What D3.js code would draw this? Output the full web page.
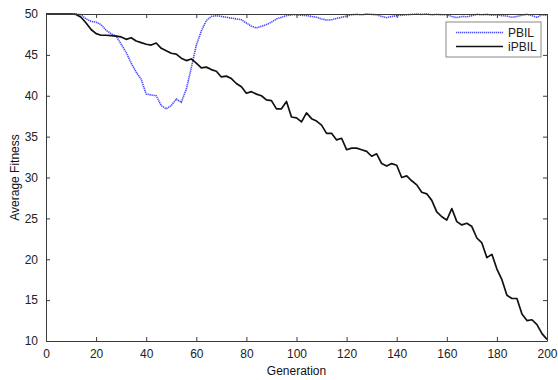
<!DOCTYPE html>
<html>
<head>
<meta charset="utf-8">
<script src="https://cdn.jsdelivr.net/npm/d3@7"></script>
<style>
  html, body { margin: 0; padding: 0; background: #fff; }
  svg { display: block; font-family: "Liberation Sans", Arial, sans-serif; }
</style>
</head>
<body>
<svg id="chart" width="558" height="380"></svg>
<script>
// Generations sampled every 2 steps
const generations = d3.range(0, 201, 2);

// Average fitness per sampled generation
const pbil = [
  50, 50, 50, 50, 50, 50, 50, 49.9, 49.4, 49.1,
  49.0, 48.7, 48.0, 47.6, 47.3, 46.3, 45.3, 44.0, 42.9, 42.0,
  40.2, 40.1, 40.0, 38.8, 38.4, 38.8, 39.6, 39.2, 40.8, 43.4,
  46.2, 47.9, 49.2, 49.7, 49.8, 49.7, 49.6, 49.5, 49.4, 49.3,
  48.9, 48.5, 48.3, 48.5, 48.7, 49.0, 49.4, 49.6, 49.8, 49.9,
  49.9, 49.85, 49.8, 49.7, 49.6, 49.4, 49.25, 49.3, 49.45, 49.6,
  49.75, 49.9, 49.95, 49.9, 50, 49.95, 49.9, 49.7, 49.55, 49.7,
  49.8, 49.85, 49.9, 49.95, 50, 49.95, 50, 49.9, 49.95, 49.9,
  49.9, 49.7, 49.55, 49.7, 49.65, 49.8, 49.95, 49.9, 49.95, 49.85,
  49.9, 49.8, 49.75, 49.6, 49.7, 49.85, 49.95, 49.8, 49.6, 49.9,
  49.8
];

const ipbil = [
  50, 50, 50, 50, 50, 50, 49.95, 49.6, 48.9, 48.1,
  47.6, 47.4, 47.4, 47.35, 47.3, 47.2, 46.9, 47.1, 46.7, 46.5,
  46.3, 46.2, 46.45, 45.8, 45.5, 45.2, 45.1, 44.6, 44.3, 44.5,
  44.0, 43.4, 43.5, 43.2, 43.0, 42.3, 42.4, 42.1, 41.5, 41.1,
  40.3, 40.5, 40.2, 40.0, 39.5, 39.4, 38.4, 38.4, 39.3, 37.4,
  37.3, 36.8, 37.9, 37.2, 36.9, 36.4, 35.4, 35.4, 34.6, 34.8,
  33.4, 33.6, 33.6, 33.4, 33.2, 32.6, 32.9, 31.7, 31.4, 31.7,
  31.5, 30.0, 30.2, 29.6, 29.1, 28.2, 28.0, 27.2, 25.8, 25.2,
  24.8, 26.2, 24.6, 24.2, 24.4, 24.0, 22.6, 22.0, 20.2, 20.6,
  18.8, 17.5, 15.6, 15.2, 15.2, 13.3, 12.5, 12.6, 12.0, 10.9,
  10.2
];

const xTicks = [0, 20, 40, 60, 80, 100, 120, 140, 160, 180, 200];
const yTicks = [10, 15, 20, 25, 30, 35, 40, 45, 50];

const seriesNames = ["PBIL", "iPBIL"];
const seriesColors = ["#4a4aff", "#111111"];

const width = 558, height = 380;
const margin = { top: 14, right: 11, bottom: 39, left: 46 };

const svg = d3.select("#chart");
const x = d3.scaleLinear().domain([0, 200]).range([margin.left, width - margin.right]);
const y = d3.scaleLinear().domain([10, 50]).range([height - margin.bottom, margin.top]);

const axisColor = "#3a3a3a";

// Lines
const line = d3.line()
  .x((d, i) => x(generations[i]))
  .y(d => y(d));

svg.append("path")
  .datum(pbil)
  .attr("fill", "none")
  .attr("stroke", seriesColors[0])
  .attr("stroke-width", 1.6)
  .attr("stroke-dasharray", "1.3,0.7")
  .attr("d", line);

svg.append("path")
  .datum(ipbil)
  .attr("fill", "none")
  .attr("stroke", seriesColors[1])
  .attr("stroke-width", 1.7)
  .attr("stroke-linejoin", "round")
  .attr("d", line);

// Axes (box with inward ticks on all four sides)
function styleAxis(g) {
  g.selectAll(".domain").attr("stroke", axisColor);
  g.selectAll(".tick line").attr("stroke", axisColor);
  g.selectAll(".tick text").attr("fill", "#222").attr("font-size", 12);
}

svg.append("g")
  .attr("transform", `translate(0,${height - margin.bottom})`)
  .call(d3.axisBottom(x).tickValues(xTicks).tickSizeInner(-4).tickSizeOuter(0).tickPadding(8))
  .call(styleAxis)
  .call(g => g.selectAll(".tick text").attr("dy", "0.75em"));

svg.append("g")
  .attr("transform", `translate(0,${margin.top})`)
  .call(d3.axisTop(x).tickValues(xTicks).tickSizeInner(-4).tickSizeOuter(0).tickFormat(""))
  .call(styleAxis);

svg.append("g")
  .attr("transform", `translate(${margin.left},0)`)
  .call(d3.axisLeft(y).tickValues(yTicks).tickSizeInner(-4).tickSizeOuter(0).tickPadding(8))
  .call(styleAxis);

svg.append("g")
  .attr("transform", `translate(${width - margin.right},0)`)
  .call(d3.axisRight(y).tickValues(yTicks).tickSizeInner(-4).tickSizeOuter(0).tickFormat(""))
  .call(styleAxis);

// Axis titles
svg.append("text")
  .attr("x", (margin.left + width - margin.right) / 2)
  .attr("y", 375)
  .attr("text-anchor", "middle")
  .attr("font-size", 12)
  .attr("fill", "#111")
  .text("Generation");

svg.append("text")
  .attr("transform", `translate(19,${(margin.top + height - margin.bottom) / 2}) rotate(-90)`)
  .attr("text-anchor", "middle")
  .attr("font-size", 12)
  .attr("fill", "#111")
  .text("Average Fitness");

// Legend
const legend = svg.append("g").attr("transform", "translate(446,22)");
legend.append("rect")
  .attr("width", 95).attr("height", 35)
  .attr("fill", "#fff")
  .attr("stroke", "#888").attr("stroke-width", 1);

seriesNames.forEach((name, i) => {
  const ly = 10.5 + i * 14;
  legend.append("line")
    .attr("x1", 10).attr("x2", 57)
    .attr("y1", ly).attr("y2", ly)
    .attr("stroke", seriesColors[i])
    .attr("stroke-width", i === 0 ? 1.6 : 1.5)
    .attr("stroke-dasharray", i === 0 ? "1.3,0.7" : null);
  legend.append("text")
    .attr("x", 62).attr("y", ly + 4)
    .attr("font-size", 12)
    .attr("fill", "#222")
    .text(name);
});
</script>
</body>
</html>
